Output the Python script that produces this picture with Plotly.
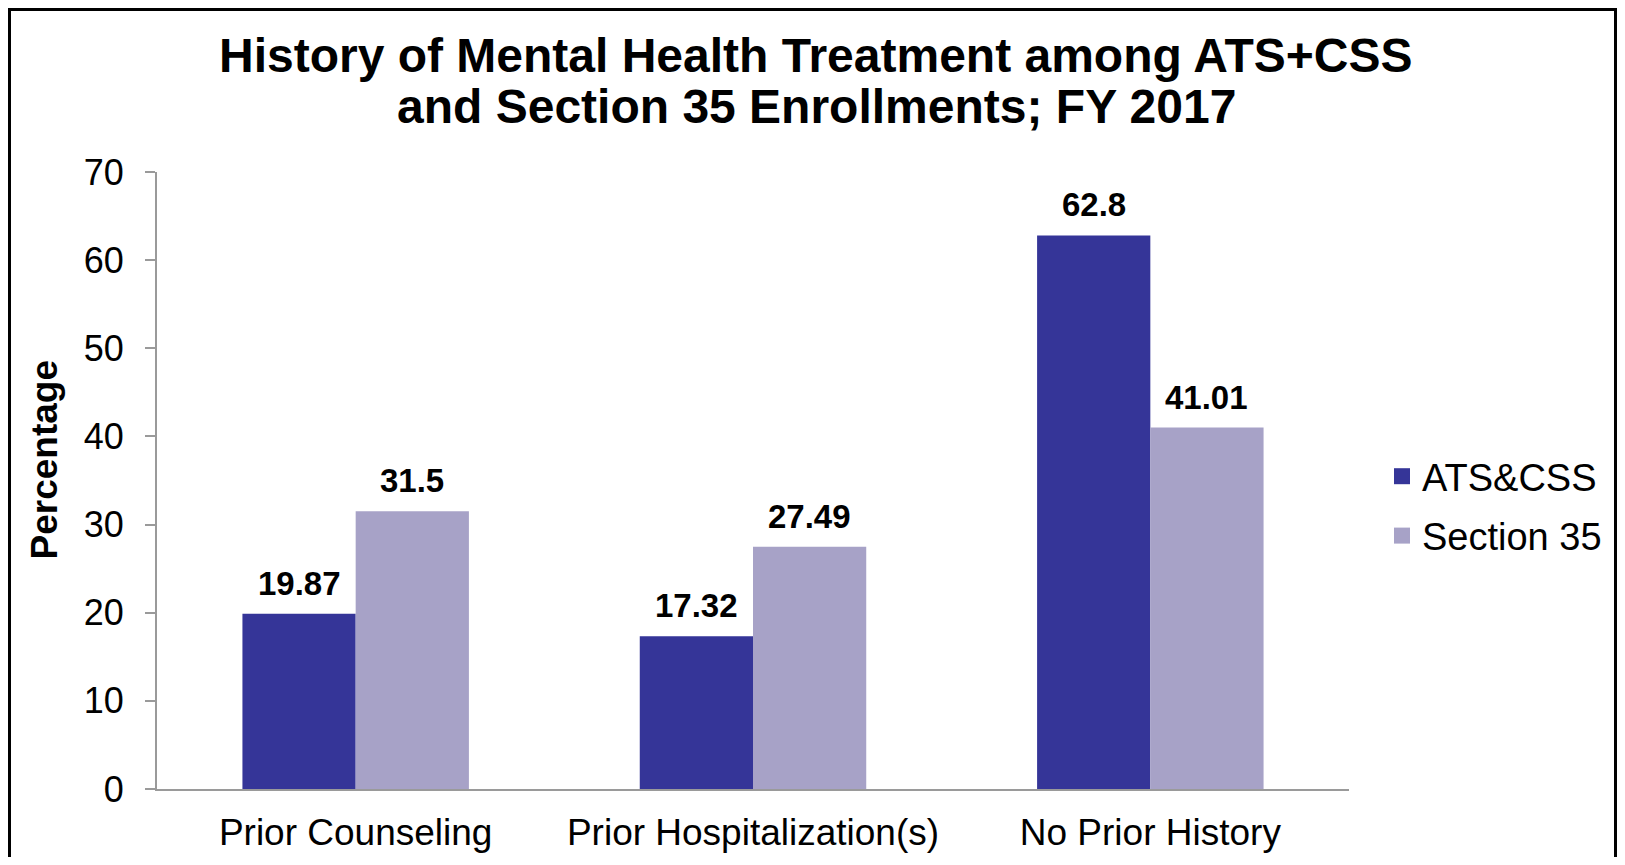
import plotly.graph_objects as go

categories = ["Prior Counseling", "Prior Hospitalization(s)", "No Prior History"]
ats_css = [19.87, 17.32, 62.8]
section_35 = [31.5, 27.49, 41.01]
series_names = ["ATS&CSS", "Section 35"]
label_text = [["19.87", "17.32", "62.8"], ["31.5", "27.49", "41.01"]]
y_ticks = [0, 10, 20, 30, 40, 50, 60, 70]
title_lines = [
    "History of Mental Health Treatment among ATS+CSS",
    "and Section 35 Enrollments; FY 2017",
]

FONT = "Liberation Sans, Arial, sans-serif"
colors = ["#353598", "#A7A2C7"]
axis_gray = "#9a9a9a"

# the page body has an 8px margin, so the figure is sized to fit inside it
W, H = 1609, 849
L, T = 149, 164
plot_w, plot_h = 1192, 617
R, B = W - L - plot_w, H - T - plot_h
bargap = 0.43
bar_px = plot_w / len(categories) * (1 - bargap) / 2


def px(x):
    return (x - L) / plot_w


def py(y):
    return (T + plot_h - y) / plot_h


fig = go.Figure()
for i, (name, vals) in enumerate(zip(series_names, [ats_css, section_35])):
    fig.add_trace(go.Bar(
        x=categories, y=vals, name=name,
        marker=dict(color=colors[i], line_width=0),
        showlegend=False,
    ))
    # legend proxy with a bigger square swatch
    fig.add_trace(go.Scatter(
        x=[None], y=[None], mode="markers", name=name,
        marker=dict(symbol="square", size=16, color=colors[i]),
        legendgroup=name,
    ))
    # data labels above each bar
    shift = (i - 0.5) * bar_px
    for cat, v, txt in zip(categories, vals, label_text[i]):
        fig.add_annotation(
            x=cat, y=v, text=f"<b>{txt}</b>", showarrow=False,
            xshift=shift, yshift=10, yanchor="bottom",
            font=dict(family=FONT, size=33, color="black"),
        )

# two-line title
for line, ypix in zip(title_lines, [47, 99]):
    fig.add_annotation(
        xref="paper", yref="paper", x=px(808), y=py(ypix),
        xanchor="center", yanchor="middle", showarrow=False,
        text=f"<b>{line}</b>",
        font=dict(family=FONT, size=48, color="black"),
    )

# y-axis title
fig.add_annotation(
    xref="paper", yref="paper", x=px(35.5), y=py(452),
    xanchor="center", yanchor="middle",
    text="<b>Percentage</b>", textangle=-90, showarrow=False,
    font=dict(family=FONT, size=37, color="black"),
)

# outer chart border (open at the bottom, as in the source image)
fig.add_shape(
    type="path", xref="paper", yref="paper",
    path=f"M {px(1.5)},{py(H + 40)} L {px(1.5)},{py(1.5)} "
         f"L {px(W - 1.5)},{py(1.5)} L {px(W - 1.5)},{py(H + 40)}",
    line=dict(color="black", width=3), layer="above",
)

fig.update_layout(
    width=W, height=H,
    margin=dict(l=L, r=R, t=T, b=B, pad=0, autoexpand=False),
    paper_bgcolor="white", plot_bgcolor="white",
    barmode="group", bargap=bargap, bargroupgap=0,
    font=dict(family=FONT, color="black"),
    legend=dict(
        x=px(1374), xanchor="left",
        y=py(498), yanchor="middle",
        font=dict(family=FONT, size=38, color="black"),
        tracegroupgap=7, bgcolor="rgba(0,0,0,0)",
    ),
    showlegend=True,
)
fig.update_xaxes(
    showline=True, linecolor=axis_gray, linewidth=2,
    ticks="", showgrid=False, zeroline=False, automargin=False,
    tickfont=dict(family=FONT, size=37, color="black"),
    ticklabelstandoff=10,
)
fig.update_yaxes(
    range=[0, 70], tickvals=y_ticks,
    showline=True, linecolor=axis_gray, linewidth=2,
    ticks="outside", ticklen=10, tickwidth=2, tickcolor=axis_gray,
    showgrid=False, zeroline=False, automargin=False,
    tickfont=dict(family=FONT, size=36, color="black"),
    ticklabelstandoff=14,
)

fig.write_html("out.html")
